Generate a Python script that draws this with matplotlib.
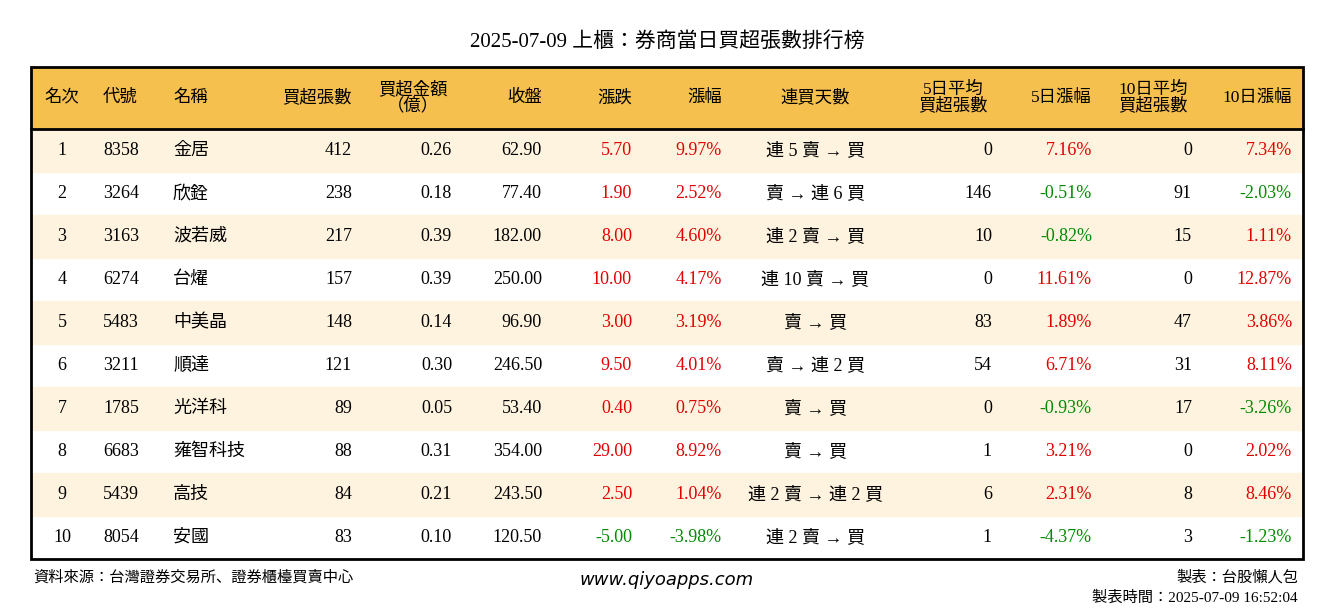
import matplotlib.pyplot as plt
from matplotlib.patches import Rectangle

FONT = ['Liberation Serif', 'Noto Sans CJK TC', 'Noto Sans CJK JP', 'Noto Sans CJK SC',
        'Noto Sans CJK KR']
plt.rcParams['font.family'] = FONT

rank = list(range(1, 11))
codes = ['8358', '3264', '3163', '6274', '5483', '3211', '1785', '6683', '5439', '8054']
names = ['金居', '欣銓', '波若威', '台燿', '中美晶', '順達', '光洋科', '雍智科技', '高技', '安國']
buy_lots = [412, 238, 217, 157, 148, 121, 89, 88, 84, 83]
buy_amt = [0.26, 0.18, 0.39, 0.39, 0.14, 0.30, 0.05, 0.31, 0.21, 0.10]
close = [62.90, 77.40, 182.00, 250.00, 96.90, 246.50, 53.40, 354.00, 243.50, 120.50]
change = [5.70, 1.90, 8.00, 10.00, 3.00, 9.50, 0.40, 29.00, 2.50, -5.00]
pct = [9.97, 2.52, 4.60, 4.17, 3.19, 4.01, 0.75, 8.92, 1.04, -3.98]
streak = ['連 5 賣 → 買', '賣 → 連 6 買', '連 2 賣 → 買', '連 10 賣 → 買', '賣 → 買',
          '賣 → 連 2 買', '賣 → 買', '賣 → 買', '連 2 賣 → 連 2 買', '連 2 賣 → 買']
avg5 = [0, 146, 10, 0, 83, 54, 0, 1, 6, 1]
pct5 = [7.16, -0.51, -0.82, 11.61, 1.89, 6.71, -0.93, 3.21, 2.31, -4.37]
avg10 = [0, 91, 15, 0, 47, 31, 17, 0, 8, 3]
pct10 = [7.34, -2.03, 1.11, 12.87, 3.86, 8.11, -3.26, 2.02, 8.46, -1.23]

headers = ['名次', '代號', '名稱', '買超張數', '買超金額\n（億）', '收盤', '漲跌', '漲幅',
           '連買天數', '5日平均\n買超張數', '5日漲幅', '10日平均\n買超張數', '10日漲幅']
# (x, align) for header and cells
hpos = [(62, 'center'), (103, 'left'), (173, 'left'), (352, 'right'), (413, 'center'),
        (542, 'right'), (632, 'right'), (722, 'right'), (815, 'center'), (953, 'center'),
        (1092, 'right'), (1153, 'center'), (1292, 'right')]
cpos = [(62, 'center'), (103, 'left'), (173, 'left'), (352, 'right'), (452, 'right'),
        (542, 'right'), (632, 'right'), (722, 'right'), (815, 'center'), (992, 'right'),
        (1092, 'right'), (1192, 'right'), (1292, 'right')]

RED, GREEN = '#e00000', '#008a00'
def col(v):
    return RED if v > 0 else (GREEN if v < 0 else 'black')

W, H = 1334, 612
fig = plt.figure(figsize=(W / 100, H / 100), dpi=100)
ax = fig.add_axes([0, 0, 1, 1])
ax.set_xlim(0, W)
ax.set_ylim(H, 0)
ax.axis('off')

left, right, top, hdr_h, row_h = 31, 1303, 67, 62, 43
ax.add_patch(Rectangle((left, top), right - left, hdr_h, color='#f6c04e', zorder=0))
for i in range(10):
    y0 = top + hdr_h + i * row_h
    if i % 2 == 0:
        ax.add_patch(Rectangle((left, y0), right - left, row_h, color='#fef3df', zorder=0))
bottom = top + hdr_h + 10 * row_h
ax.add_patch(Rectangle((left, top), right - left, bottom - top, fill=False, lw=2, ec='black'))
ax.plot([left, right], [top + hdr_h, top + hdr_h], color='black', lw=2)

ax.text(W / 2, 42, '2025-07-09 上櫃：券商當日買超張數排行榜', ha='center', va='center',
        fontsize=15)

for h, (x, a) in zip(headers, hpos):
    ax.text(x, top + hdr_h / 2, h, ha=a, va='center', fontsize=12.5,
            linespacing=0.95, multialignment='center')

for i in range(10):
    y = top + hdr_h + i * row_h + row_h / 2
    cells = [(str(rank[i]), 'black'), (codes[i], 'black'), (names[i], 'black'),
             (str(buy_lots[i]), 'black'), (f'{buy_amt[i]:.2f}', 'black'),
             (f'{close[i]:.2f}', 'black'), (f'{change[i]:.2f}', col(change[i])),
             (f'{pct[i]:.2f}%', col(pct[i])), (streak[i], 'black'),
             (str(avg5[i]), 'black'), (f'{pct5[i]:.2f}%', col(pct5[i])),
             (str(avg10[i]), 'black'), (f'{pct10[i]:.2f}%', col(pct10[i]))]
    for (t, c), (x, a) in zip(cells, cpos):
        ax.text(x, y, t, ha=a, va='center', fontsize=13, color=c)

ax.text(33, 577, '資料來源：台灣證券交易所、證券櫃檯買賣中心', ha='left', va='center',
        fontsize=11)
ax.text(667, 580, 'www.qiyoapps.com', ha='center', va='center', fontsize=13,
        style='italic', family='DejaVu Sans')
ax.text(1298, 577, '製表：台股懶人包', ha='right', va='center', fontsize=11)
ax.text(1298, 598, '製表時間：2025-07-09 16:52:04', ha='right', va='center', fontsize=11)

fig.savefig('out.png', dpi=100, facecolor='white')
